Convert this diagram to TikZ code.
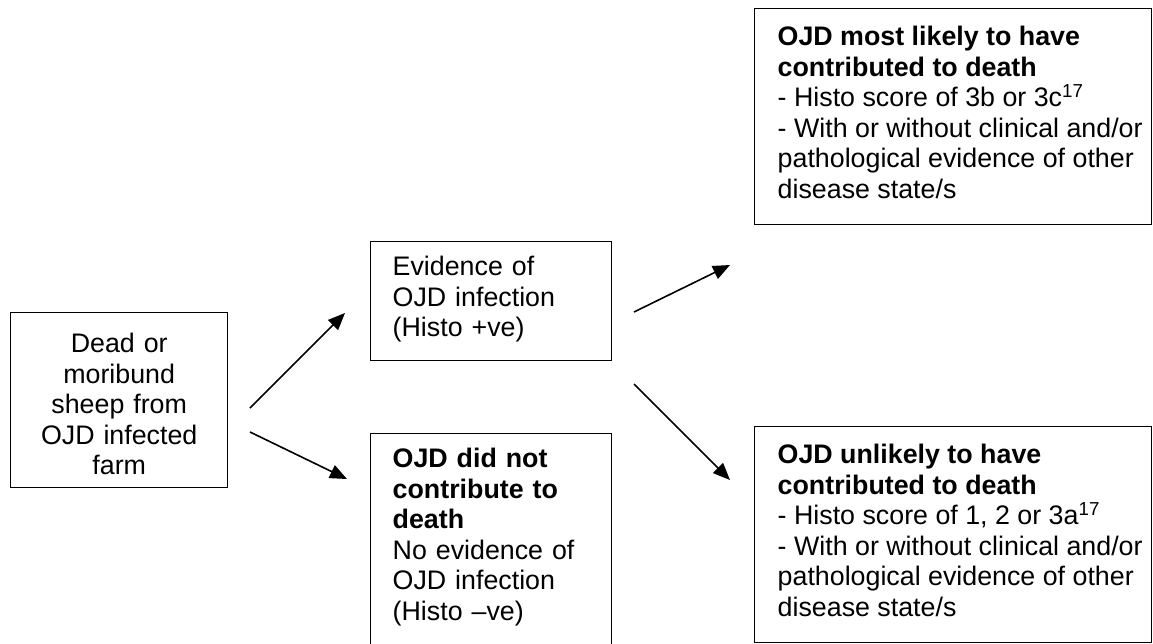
\documentclass[tikz,border=0pt]{standalone}
\usepackage{fontspec}
\setmainfont{Liberation Sans}
\usetikzlibrary{arrows.meta}
\newcommand{\widetext}[1]{\hspace*{23pt}\parbox[t]{374pt}{\raggedright #1}}

\begin{document}
\begin{tikzpicture}[x=1pt, y=-1pt, font=\fontsize{26.8}{30.5}\selectfont]
	\tikzset{box/.style={draw, line width=1.4pt, inner sep=0pt, anchor=north west}}
	\tikzset{leftbox/.style={box, align=left, inner xsep=22pt}}
	\tikzset{widebox/.style={box, text height=37pt, text depth=179pt}}
	\tikzset{link/.style={line width=1.6pt, -{Triangle[length=17pt, width=14pt]}}}
	\useasboundingbox (0,0) rectangle (1153,643);

	\node[box, align=center, text width=217pt, text height=40pt, text depth=135pt]
		(dead) at (10,312) {Dead or\\moribund\\sheep from\\OJD infected\\farm};
	\node[leftbox, text width=197pt, text height=34pt, text depth=85pt]
		(evidence) at (370,241) {Evidence of\\OJD infection\\(Histo +ve)};
	\node[leftbox, text width=197pt, text height=34pt, text depth=180pt]
		(notcontrib) at (370,433) {\textbf{OJD did not}\\\textbf{contribute to}\\\textbf{death}\\No evidence of\\OJD infection\\(Histo –ve)};
	\node[widebox] (likely) at (754,8)
		{\widetext{\textbf{OJD most likely to have}\\\textbf{contributed to death}\\- Histo score of 3b or 3c\textsuperscript{17}\\- With or without clinical and/or\\pathological evidence of other\\disease state/s}};
	\node[widebox] (unlikely) at (754,426)
		{\widetext{\textbf{OJD unlikely to have}\\\textbf{contributed to death}\\- Histo score of 1, 2 or 3a\textsuperscript{17}\\- With or without clinical and/or\\pathological evidence of other\\disease state/s}};

	% arrow ends, kept clear of the boxes
	\coordinate (dead1) at (250,408);
	\coordinate (dead2) at (250,432);
	\coordinate (evid1) at (345,313);
	\coordinate (notc1) at (347,479);
	\coordinate (evid2) at (634,312);
	\coordinate (evid3) at (634,384);
	\coordinate (like1) at (730,265);
	\coordinate (unli1) at (730,480);

	\path
		(dead1) edge[link] (evid1)
		(dead2) edge[link] (notc1)
		(evid2) edge[link] (like1)
		(evid3) edge[link] (unli1)
		;
\end{tikzpicture}
\end{document}
